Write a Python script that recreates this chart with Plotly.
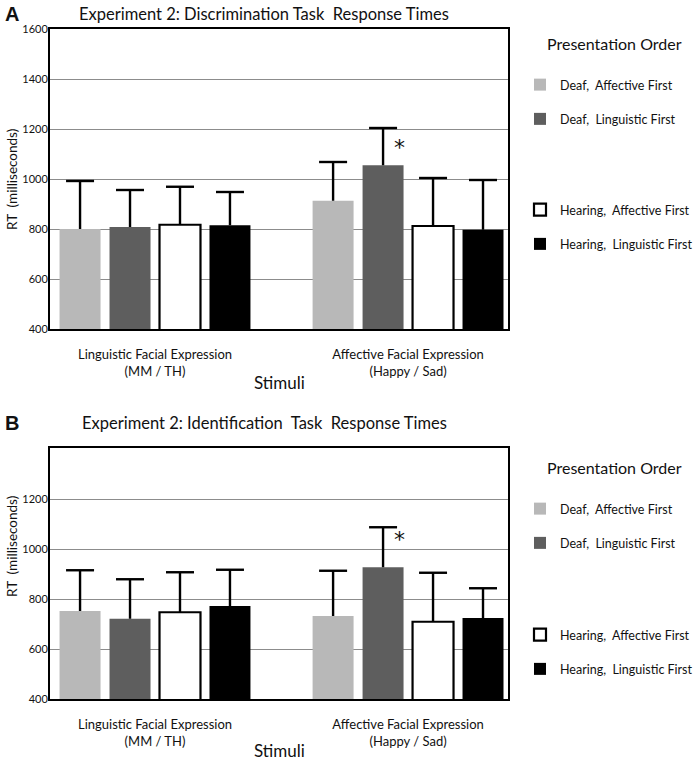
import plotly.graph_objects as go

W, H = 700, 762

# ---------------- data ----------------
stimuli = ["Linguistic Facial Expression<br>(MM / TH)", "Affective Facial Expression<br>(Happy / Sad)"]
group_pos = [0, 1]
series_names = ["Deaf,  Affective First", "Deaf,  Linguistic First",
                "Hearing,  Affective First", "Hearing,  Linguistic First"]

# Panel A: Discrimination task (mean RT, upper SD)
disc_means = [[800, 913], [808, 1055], [817, 812], [815, 797]]
disc_err = [[192, 155], [148, 149], [152, 192], [133, 199]]

# Panel B: Identification task
ident_means = [[752, 732], [721, 927], [747, 709], [772, 724]]
ident_err = [[163, 181], [158, 160], [160, 196], [145, 119]]

y_ticks_a = [400, 600, 800, 1000, 1200, 1400, 1600]
y_ticks_b = [400, 600, 800, 1000, 1200]

# ---------------- styling ----------------
fills = ["#b8b8b8", "#5e5e5e", "#ffffff", "#000000"]
outline = [0, 0, 2.2, 0]
FONT = "Lato"
TXT = "#111111"
BARGAP, BARGROUPGAP = 0.21, 0.18
N = len(series_names)
ERR_W = 2.4


def xp(px):
    return px / W


def yp(py):
    return 1 - py / H


fig = go.Figure()

panels = [
    dict(means=disc_means, err=disc_err, xa="x", ya="y", legs=["legend", "legend3"]),
    dict(means=ident_means, err=ident_err, xa="x2", ya="y2", legs=["legend2", "legend4"]),
]

group_w = 1 - BARGAP
slot = group_w / N

for p in panels:
    for i, name in enumerate(series_names):
        fig.add_trace(go.Bar(
            x=group_pos, y=p["means"][i], name=name,
            xaxis=p["xa"], yaxis=p["ya"],
            legend=p["legs"][0] if i < 2 else p["legs"][1],
            legendgroup=p["ya"] + str(i),
            marker=dict(color=fills[i], line=dict(color="black", width=outline[i])),
        ))
    # upper-only error bars (stem + cap) located at each bar's centre
    for i in range(N):
        off = -group_w / 2 + slot * (i + 0.5)
        xs, ys = [], []
        for g, m, e in zip(group_pos, p["means"][i], p["err"][i]):
            xs += [g + off, g + off, None]
            ys += [m, m + e, None]
        fig.add_trace(go.Scatter(x=xs, y=ys, mode="lines", xaxis=p["xa"], yaxis=p["ya"],
                                 line=dict(color="black", width=ERR_W),
                                 showlegend=False, hoverinfo="skip"))
        fig.add_trace(go.Scatter(
            x=[g + off for g in group_pos],
            y=[m + e for m, e in zip(p["means"][i], p["err"][i])],
            mode="markers", xaxis=p["xa"], yaxis=p["ya"],
            marker=dict(symbol="line-ew", size=20, line=dict(color="black", width=ERR_W)),
            showlegend=False, hoverinfo="skip"))

axis_common = dict(showline=True, linecolor="black", linewidth=2, mirror=True,
                   ticks="", zeroline=False, automargin=False)

x0 = -0.415
x1 = 1.395
fig.update_layout(
    template="none",
    width=W, height=H,
    margin=dict(l=0, r=0, t=0, b=0, pad=0, autoexpand=False),
    paper_bgcolor="white", plot_bgcolor="white",
    barmode="group", bargap=BARGAP, bargroupgap=BARGROUPGAP,
    font=dict(family=FONT, color=TXT, size=12),
    hovermode=False,
    xaxis=dict(domain=[xp(50), xp(508)], range=[x0, x1], anchor="y",
               tickvals=group_pos, ticktext=stimuli, showgrid=False,
               tickfont=dict(size=13, color=TXT), ticklabelstandoff=12, **axis_common),
    yaxis=dict(domain=[yp(329), yp(29)], range=[400, 1600], anchor="x",
               tickvals=y_ticks_a, showgrid=True, gridcolor="#8c8c8c", gridwidth=1,
               tickfont=dict(size=11, color=TXT), ticklabelstandoff=-2, **axis_common),
    xaxis2=dict(domain=[xp(50), xp(508)], range=[x0, x1], anchor="y2",
                tickvals=group_pos, ticktext=stimuli, showgrid=False,
                tickfont=dict(size=13, color=TXT), ticklabelstandoff=12, **axis_common),
    yaxis2=dict(domain=[yp(699), yp(448)], range=[400, 1404], anchor="x2",
                tickvals=y_ticks_b, showgrid=True, gridcolor="#8c8c8c", gridwidth=1,
                tickfont=dict(size=11, color=TXT), ticklabelstandoff=-2, **axis_common),
)

leg_common = dict(xanchor="left", yanchor="top", bgcolor="rgba(0,0,0,0)",
                  font=dict(size=12.5, family=FONT, color=TXT), tracegroupgap=15,
                  traceorder="grouped", borderwidth=0)
fig.update_layout(
    legend=dict(x=xp(520), y=yp(70), **leg_common),
    legend3=dict(x=xp(520), y=yp(195), **leg_common),
    legend2=dict(x=xp(520), y=yp(494), **leg_common),
    legend4=dict(x=xp(520), y=yp(620), **leg_common),
)

ann = []


def txt(text, x, y, size, bold=False, angle=0):
    ann.append(dict(text=("<b>%s</b>" % text) if bold else text, x=xp(x), y=yp(y),
                    xref="paper", yref="paper", showarrow=False, textangle=angle,
                    font=dict(size=size, family=FONT if not bold else "Liberation Sans", color=TXT),
                    xanchor="center", yanchor="middle"))


txt("A", 12, 14, 20, bold=True)
txt("Experiment 2: Discrimination Task  Response Times", 264, 14, 16.5)
txt("B", 12, 423, 20, bold=True)
txt("Experiment 2: Identification  Task  Response Times", 264, 423, 16.5)
txt("RT  (milliseconds)", 12, 180, 13.5, angle=-90)
txt("RT  (milliseconds)", 12, 547, 13.5, angle=-90)
txt("Stimuli", 279, 383, 17)
txt("Stimuli", 279, 750, 17)
txt("Presentation Order", 614, 43, 16)
txt("Presentation Order", 614, 467, 16)

# significance markers above Deaf, Linguistic First (affective stimuli)
for p, ysh in ((panels[0], -19), (panels[1], -12)):
    ann.append(dict(text="*", x=group_pos[1], y=p["means"][1][1] + p["err"][1][1],
                    xref=p["xa"], yref=p["ya"], xshift=-9, yshift=ysh, showarrow=False,
                    font=dict(size=22, family="DejaVu Sans", color=TXT)))

fig.update_layout(annotations=ann)
fig.write_html("out.html", config={"displayModeBar": False},
               post_script="document.body.style.margin='0px';")
